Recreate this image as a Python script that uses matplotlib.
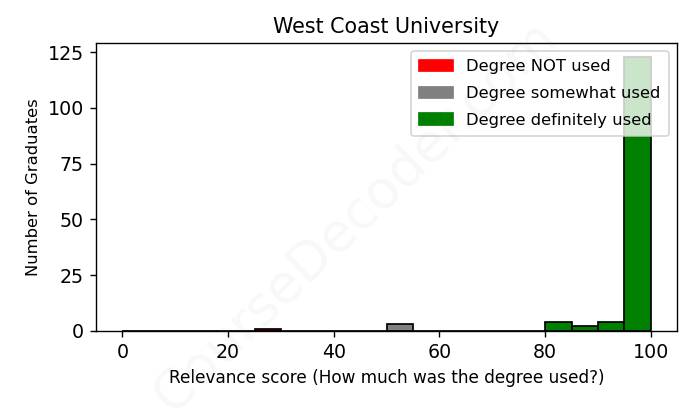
import matplotlib.pyplot as plt
import matplotlib.patches as mpatches
from matplotlib.ticker import MultipleLocator

# Datos del histograma (contenedores de 5 puntos)
bin_edges = list(range(0, 105, 5))
counts = [0, 0, 0, 0, 0, 1, 0, 0, 0, 0, 3, 0, 0, 0, 0, 0, 4, 2, 4, 123]
legend_labels = ["Degree NOT used", "Degree somewhat used", "Degree definitely used"]
legend_colors = ["red", "grey", "green"]

dpi = 124
fig, ax = plt.subplots(figsize=(691 / dpi, 408 / dpi), dpi=dpi)
fig.subplots_adjust(left=0.139, right=0.980, top=0.895, bottom=0.189)

n, bins, patches = ax.hist(bin_edges[:-1], bins=bin_edges, weights=counts, edgecolor="black")

# Colorea cada barra segun su rango
for left, patch in zip(bins[:-1], patches):
    if left < 40:
        patch.set_facecolor("red")
    elif left < 80:
        patch.set_facecolor("grey")
    else:
        patch.set_facecolor("green")

ax.set_title("West Coast University", fontsize=12)
ax.set_xlabel("Relevance score (How much was the degree used?)", fontsize=9.8)
ax.set_ylabel("Number of Graduates", fontsize=9.5)
ax.tick_params(labelsize=11)
ax.yaxis.set_major_locator(MultipleLocator(25))

handles = [mpatches.Patch(color=c, label=l) for c, l in zip(legend_colors, legend_labels)]
ax.legend(handles=handles, loc="upper right", fontsize=9.5, labelspacing=0.72,
          handlelength=2.1, borderpad=0.5)

fig.text(0.514, 0.47, "CourseDecoder.com", fontsize=31, color="grey", alpha=0.06,
         rotation=44, ha="center", va="center")

plt.savefig("out.png", dpi=dpi)
